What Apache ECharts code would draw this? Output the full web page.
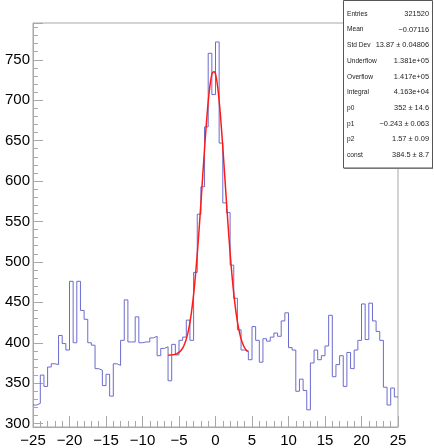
<!DOCTYPE html>
<html>
<head>
<meta charset="utf-8">
<script src="https://cdn.jsdelivr.net/npm/echarts@6/dist/echarts.min.js"></script>
<style>
  html, body { margin: 0; padding: 0; background: #fff; }
  #chart { width: 434px; height: 448px; }
</style>
</head>
<body>
<div id="chart"></div>
<script>
// Histogram binning: 100 bins of width 0.5 from -25 to 25
const binLow = -25;
const binWidth = 0.5;
const counts = [
  323, 325, 360, 346, 370, 374, 373, 409, 399, 391,
  476, 400, 476, 440, 429, 400, 397, 368, 366, 347,
  361, 334, 374, 372, 403, 453, 401, 401, 432, 400,
  401, 401, 406, 408, 384, 393, 395, 353, 398, 385,
  403, 407, 428, 403, 487, 559, 593, 667, 758, 707,
  772, 647, 573, 561, 496, 455, 416, 391, 390, 379,
  420, 403, 376, 405, 402, 407, 412, 408, 427, 437,
  394, 391, 340, 355, 341, 317, 375, 391, 379, 384,
  396, 434, 358, 373, 384, 346, 388, 368, 391, 403,
  448, 404, 449, 427, 414, 403, 345, 323, 344, 333
];

// Gaussian + constant fit result
const p0 = 352;
const p1 = -0.243;
const p2 = 1.57;
const fitConst = 384.5;
const fitRange = [-6.5, 4.4];

// Axis ranges and tick values
const xRange = [-25, 25];
const xTickStep = 5;
const yRange = [295.8, 795.5];
const yTickStart = 300;
const yTickStep = 50;

// Statistics box rows
const statLabels = ['Entries', 'Mean', 'Std Dev', 'Underflow', 'Overflow', 'Integral', 'p0', 'p1', 'p2', 'const'];
const statValues = [
  '321520',
  '\u22120.07116',
  '13.87 \u00b1 0.04806',
  '1.381e+05',
  '1.417e+05',
  '4.163e+04',
  p0 + ' \u00b1 14.6',
  '\u2212' + Math.abs(p1) + ' \u00b1 0.063',
  p2 + ' \u00b1 0.09',
  fitConst + ' \u00b1 8.7'
];

// Step-line points: left edge of each bin, plus the final right edge
const histPoints = counts.map((c, i) => [binLow + i * binWidth, c]);
histPoints.push([binLow + counts.length * binWidth, counts[counts.length - 1]]);

// Fit curve sampled across its range
const fitPoints = [];
const nFit = 220;
for (let i = 0; i <= nFit; i++) {
  const x = fitRange[0] + (fitRange[1] - fitRange[0]) * i / nFit;
  const z = (x - p1) / p2;
  fitPoints.push([x, fitConst + p0 * Math.exp(-0.5 * z * z)]);
}

const frameColor = '#a8a8a8';
const labelFont = 'Liberation Sans, Arial, Helvetica, sans-serif';
const minus = v => String(v).replace('-', '\u2212');

const gridLeft = 33, gridRight = 36, gridTop = 23, gridBottom = 21;
const plotH = 448 - gridTop - gridBottom;
const pxPerUnit = plotH / (yRange[1] - yRange[0]);
const tickGridBottom = gridBottom + (yTickStart - yRange[0]) * pxPerUnit;

const chart = echarts.init(document.getElementById('chart'), null, { renderer: 'canvas' });

const graphics = [
  {
    type: 'rect',
    shape: { x: 343.5, y: 0.5, width: 89, height: 167.5 },
    style: { fill: '#fff', stroke: '#555', lineWidth: 1 },
    z: 100
  },
  {
    type: 'line',
    shape: { x1: 344, y1: 168.5, x2: 433, y2: 168.5 },
    style: { stroke: '#777', lineWidth: 1 },
    z: 100
  }
];
statLabels.forEach((lab, i) => {
  const yc = 14 + i * 15.67;
  graphics.push({
    type: 'text',
    x: 347, y: yc,
    style: { text: lab, fontSize: 6.6, fontFamily: labelFont, fill: '#222', verticalAlign: 'middle', align: 'left' },
    z: 101
  });
  graphics.push({
    type: 'text',
    x: 429, y: yc,
    style: { text: statValues[i], fontSize: 7.4, fontFamily: labelFont, fill: '#222', verticalAlign: 'middle', align: 'right' },
    z: 101
  });
});

chart.setOption({
  animation: false,
  backgroundColor: '#fff',
  grid: [
    { left: gridLeft, right: gridRight, top: gridTop, bottom: gridBottom,
      show: true, borderColor: frameColor, borderWidth: 1, backgroundColor: '#fff' },
    { left: gridLeft, right: gridRight, top: gridTop, bottom: tickGridBottom, show: false }
  ],
  xAxis: [
    {
      gridIndex: 0, type: 'value', min: xRange[0], max: xRange[1], interval: xTickStep,
      axisLine: { show: true, onZero: false, lineStyle: { color: frameColor, width: 1 } },
      axisTick: { show: true, inside: true, length: 11, lineStyle: { color: frameColor } },
      minorTick: { show: true, splitNumber: 5, length: 6, lineStyle: { color: frameColor } },
      splitLine: { show: false },
      axisLabel: { fontSize: 15, color: '#000', fontFamily: labelFont, margin: 6, formatter: v => minus(v) }
    },
    {
      gridIndex: 1, type: 'value', min: xRange[0], max: xRange[1], show: false,
      axisLine: { onZero: false }
    }
  ],
  yAxis: [
    {
      gridIndex: 0, type: 'value', min: yRange[0], max: yRange[1],
      axisLine: { show: true, onZero: false, lineStyle: { color: frameColor, width: 1 } },
      axisTick: { show: false }, axisLabel: { show: false }, splitLine: { show: false }
    },
    {
      gridIndex: 1, type: 'value', min: yTickStart, max: yRange[1], interval: yTickStep,
      axisLine: { show: false, onZero: false },
      axisTick: { show: true, inside: true, length: 10, lineStyle: { color: frameColor } },
      minorTick: { show: true, splitNumber: 5, length: 5, lineStyle: { color: frameColor } },
      splitLine: { show: false },
      axisLabel: { fontSize: 15, color: '#000', fontFamily: labelFont, margin: 3, showMaxLabel: false }
    }
  ],
  series: [
    {
      type: 'line', xAxisIndex: 0, yAxisIndex: 0, data: histPoints, step: 'end',
      symbol: 'none', lineStyle: { color: '#6b6bd0', width: 1 }, z: 2
    },
    {
      type: 'line', xAxisIndex: 0, yAxisIndex: 0, data: fitPoints,
      symbol: 'none', lineStyle: { color: '#ff1a1a', width: 1.5 }, z: 3
    }
  ],
  graphic: graphics
});
</script>
</body>
</html>
